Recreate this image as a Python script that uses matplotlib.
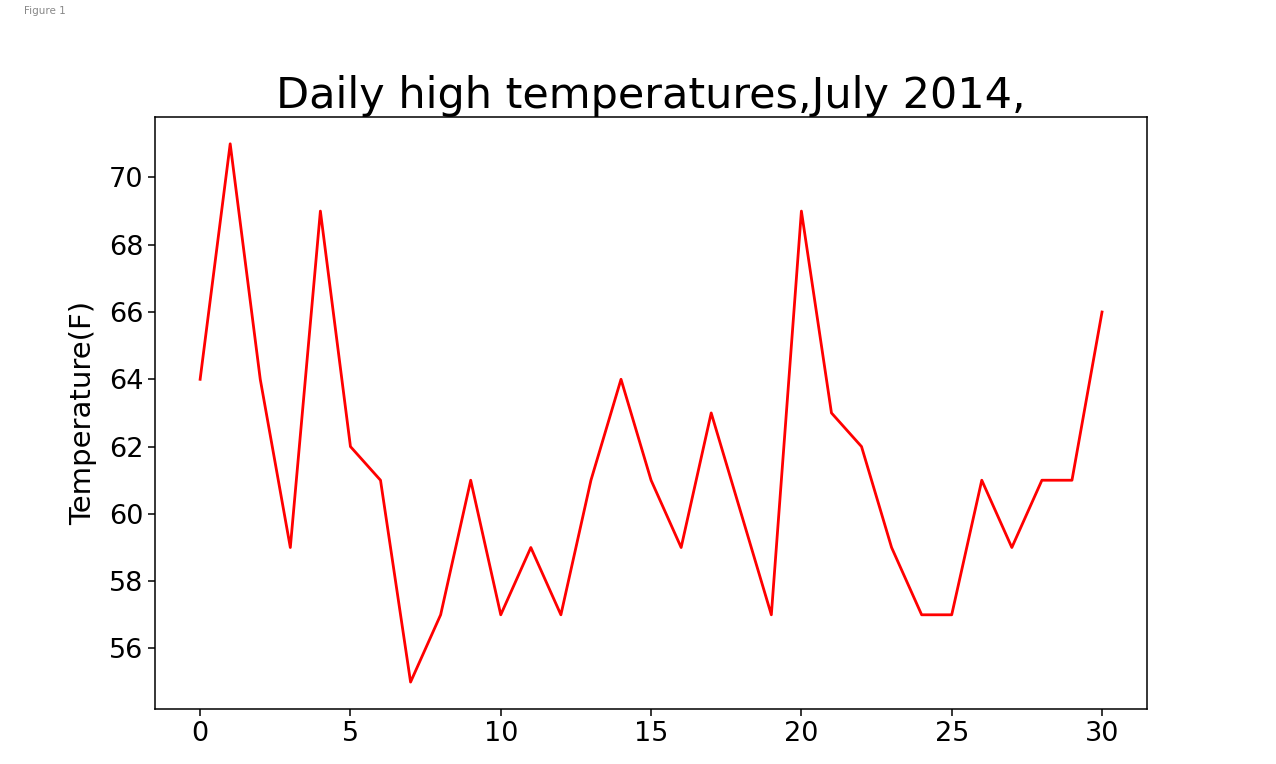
# -*- coding: utf-8 -*-
import matplotlib
matplotlib.use("Agg")
import matplotlib.pyplot as plt

# Daily high temperatures for July 2014
days = list(range(31))
highs = [64, 71, 64, 59, 69, 62, 61, 55, 57, 61,
         57, 59, 57, 61, 64, 61, 59, 63, 60, 57,
         69, 63, 62, 59, 57, 57, 61, 59, 61, 61, 66]

fig = plt.figure(figsize=(12.76, 7.64), dpi=100)
ax = fig.add_axes([0.1215, 0.072, 0.7775, 0.775])

ax.plot(days, highs, c='red', linewidth=2)

# Format plot
ax.set_title("Daily high temperatures,July 2014,", fontsize=31, pad=6.5)
ax.set_ylabel("Temperature(F)", fontsize=21, labelpad=8)
ax.tick_params(axis='both', which='major', labelsize=19.5, length=5, width=1.1)
for spine in ax.spines.values():
    spine.set_linewidth(1.1)

# window caption
fig.text(0.019, 0.986, "Figure 1", fontsize=7.5, color='#888888', va='center', ha='left')

fig.savefig("out.png", dpi=100)
